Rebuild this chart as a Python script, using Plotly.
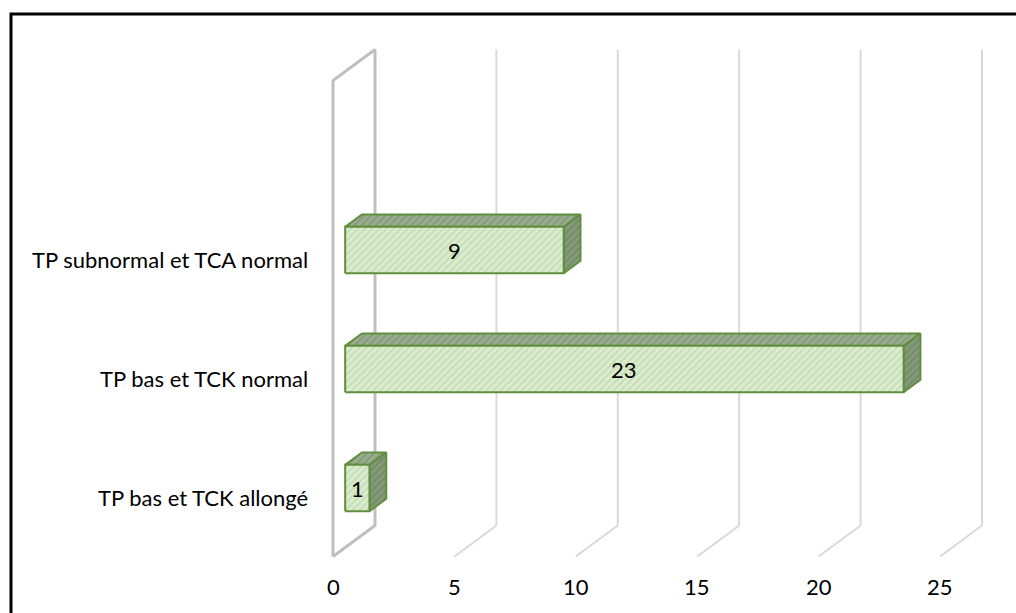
import plotly.graph_objects as go

# Data
categories = ["TP bas et TCK allongé", "TP bas et TCK normal", "TP subnormal et TCA normal"]
values = [1, 23, 9]
tick_values = [0, 5, 10, 15, 20, 25]
tick_labels = ["0", "5", "10", "15", "20", "25"]

# Oblique projection used for the pseudo-3D look
DX = 1.73   # value units shifted per full depth
DY = 0.26   # category units shifted per full depth
FLOOR, CEIL = -0.5, 3.5
BAR_FRONT, BAR_BACK = 0.29, 0.69
BAR_HALF = 0.195


def proj(v, c, d):
    return v + d * DX, c + d * DY


def poly(points):
    xs, ys = zip(*[proj(*p) for p in points])
    return list(xs) + [xs[0]], list(ys) + [ys[0]]


fig = go.Figure()

WALL = "#bfbfbf"
GRID = "#d9d9d9"
EDGE = "#5f8f3e"
FONT = "Lato"
FSIZE = 22


def line(pts, color, width):
    xs, ys = zip(*[proj(*p) for p in pts])
    fig.add_trace(go.Scatter(x=list(xs), y=list(ys), mode="lines",
                             line=dict(color=color, width=width),
                             hoverinfo="skip", showlegend=False))


# Back gridlines and floor diagonals
for v in tick_values[1:]:
    line([(v, FLOOR, 1), (v, CEIL, 1)], GRID, 2)
    line([(v, FLOOR, 0), (v, FLOOR, 1)], GRID, 2)

# Side wall at value 0
line([(0, FLOOR, 0), (0, CEIL, 0), (0, CEIL, 1), (0, FLOOR, 1), (0, FLOOR, 0)], WALL, 3)


def face(points, bg, fg, solidity):
    xs, ys = poly(points)
    fig.add_trace(go.Scatter(
        x=xs, y=ys, mode="lines", fill="toself",
        fillcolor=bg,
        fillpattern=dict(shape="/", bgcolor=bg, fgcolor=fg, size=5, solidity=solidity),
        line=dict(color=EDGE, width=2),
        hoverinfo="skip", showlegend=False))


# 3D bars: top, side, front faces
for i, v in enumerate(values):
    lo, hi = i - BAR_HALF, i + BAR_HALF
    f, b = BAR_FRONT, BAR_BACK
    face([(0, hi, f), (v, hi, f), (v, hi, b), (0, hi, b)], "#9aae8f", "#6f8762", 0.4)
    face([(v, lo, f), (v, lo, b), (v, hi, b), (v, hi, f)], "#869a7a", "#627a52", 0.4)
    face([(0, lo, f), (v, lo, f), (v, hi, f), (0, hi, f)], "#dcecd0", "#add097", 0.4)
    cx, cy = proj(v / 2, i, f)
    fig.add_annotation(x=cx, y=cy, text=str(v), showarrow=False,
                       font=dict(family=FONT, size=FSIZE, color="#000000"))

# Category labels
for i, name in enumerate(categories):
    fig.add_annotation(x=-0.95, y=i, text=name, showarrow=False, xanchor="right",
                       font=dict(family=FONT, size=FSIZE, color="#000000"))

# Value axis labels
for v, t in zip(tick_values, tick_labels):
    fig.add_annotation(x=v, y=-0.748, text=t, showarrow=False,
                       font=dict(family=FONT, size=FSIZE, color="#000000"))

# Chart border
fig.add_shape(type="rect", xref="paper", yref="paper",
              x0=11 / 1016, x1=1.05, y0=-0.05, y1=1 - 14 / 613,
              line=dict(color="#000000", width=3), fillcolor="rgba(0,0,0,0)")

fig.update_layout(
    width=1016, height=613,
    margin=dict(l=0, r=0, t=0, b=0),
    paper_bgcolor="white", plot_bgcolor="white",
    xaxis=dict(range=[-333 / 24.28, (1016 - 333) / 24.28], visible=False, fixedrange=True),
    yaxis=dict(range=[(497 - 613) / 119, 497 / 119], visible=False, fixedrange=True),
)

fig.write_html("out.html")
